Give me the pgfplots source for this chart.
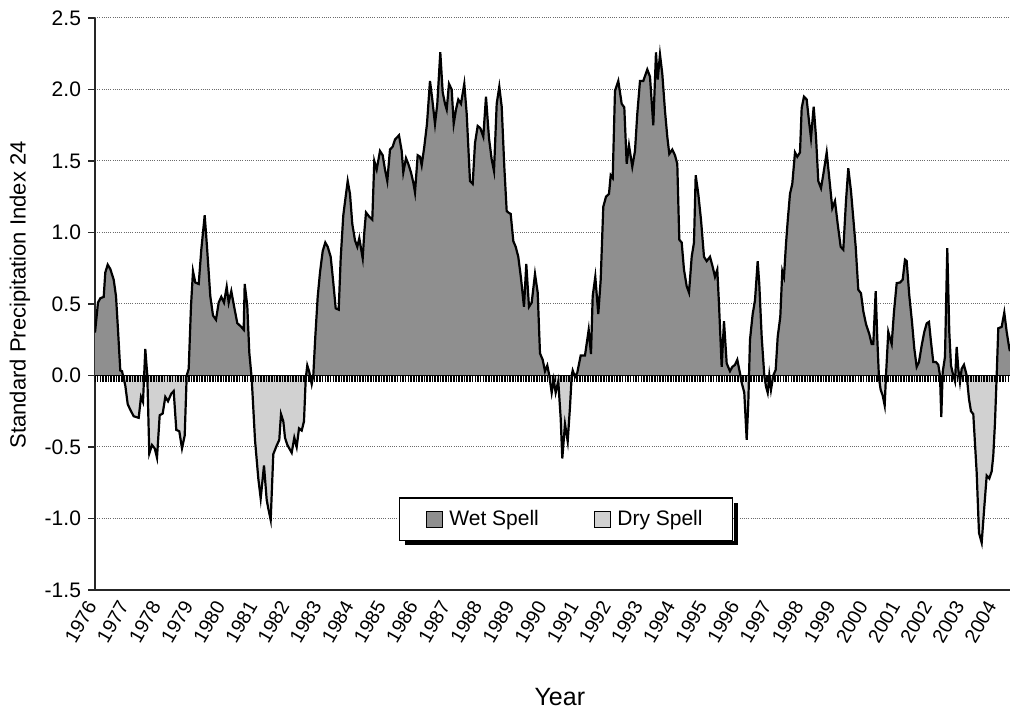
\documentclass[border=0pt]{standalone}
\usepackage{fontspec}
\setmainfont{Liberation Sans}
\usepackage{pgfplots}
\usepackage{pgfplotstable}
\pgfplotsset{compat=1.18}
\usetikzlibrary{calc}
\definecolor{wet}{gray}{0.56}
\definecolor{dry}{gray}{0.82}
\definecolor{gridc}{gray}{0.42}

% px = horizontal position (1976 at 95, 32.14 per year), v = SPI-24 value
\pgfplotstableread{
px v
95 0.30
98 0.51
100.3 0.54
103.7 0.55
105.3 0.72
107.7 0.775
110.3 0.745
113.7 0.67
116 0.555
118 0.32
120.3 0.035
122 0.03
123.7 -0.02
125.3 -0.07
127.7 -0.2
130.3 -0.24
133.7 -0.285
138.7 -0.296
141 -0.15
143 -0.185
145.3 0.185
147.3 0.0
149.3 -0.545
152 -0.486
154.7 -0.51
157 -0.575
159.7 -0.278
162.7 -0.266
165.3 -0.15
168 -0.18
171.3 -0.127
173.7 -0.109
176.3 -0.38
179.3 -0.39
182 -0.51
184.7 -0.42
186.7 0.0
188.7 0.046
191 0.486
193 0.73
195.3 0.65
198.7 0.64
201.3 0.88
204.7 1.12
207 0.90
210.3 0.555
213 0.42
216 0.39
218.7 0.51
221.3 0.55
224 0.51
226.7 0.62
228.7 0.51
231.3 0.59
234 0.486
237.3 0.366
241.3 0.34
243.7 0.32
244.7 0.64
247.3 0.486
249.3 0.16
251.7 -0.02
255 -0.45
258.3 -0.72
260.7 -0.86
264 -0.63
266.7 -0.87
268.3 -0.93
270.7 -1.01
273.3 -0.55
276.7 -0.49
279.3 -0.45
281 -0.27
283.3 -0.32
285 -0.435
287.3 -0.485
291.7 -0.54
294.3 -0.435
296.7 -0.5
299 -0.37
301.7 -0.385
304 -0.32
305.7 -0.025
307.3 0.07
309.3 0.025
311.7 -0.06
313.3 0.0
315.3 0.27
317.7 0.55
320 0.72
322.7 0.87
325.3 0.93
327.7 0.90
330.7 0.83
333.3 0.65
335.7 0.47
338.7 0.46
340.7 0.82
343.3 1.12
345.3 1.23
347.7 1.36
350 1.27
352.3 1.06
355 0.945
357.3 0.90
359.3 0.96
362.7 0.82
364.3 1.0
366 1.14
369.3 1.11
372.3 1.09
374.3 1.5
376.7 1.44
380 1.57
382.7 1.54
385 1.44
387.3 1.36
390 1.58
392.7 1.6
395 1.65
399 1.68
401.7 1.57
403.3 1.42
406 1.52
408.3 1.48
411 1.42
413.3 1.35
415 1.28
417.7 1.54
420 1.53
421.7 1.47
424.3 1.6
427 1.76
430 2.06
432.3 1.93
435 1.76
437.3 1.90
440.3 2.26
442.7 1.98
445 1.90
446.7 1.86
449 2.04
451.7 2.0
453.7 1.76
456 1.86
458.3 1.93
461 1.90
464.3 2.04
466.7 1.83
470 1.36
472.7 1.34
475 1.625
477.7 1.745
480.3 1.73
483.3 1.67
486 1.95
489 1.66
491.7 1.51
494 1.43
496.7 1.90
499.3 2.02
501.7 1.88
504.3 1.46
506.7 1.15
508.3 1.14
510.7 1.13
513.3 0.94
515.7 0.90
518.3 0.83
521 0.68
524 0.48
526.3 0.78
529 0.48
531.7 0.51
535 0.71
537.7 0.58
540 0.155
542.7 0.11
545 0.03
547.3 0.07
549.3 0.0
551.7 -0.12
553.7 -0.03
555.7 -0.12
558.3 -0.04
560.7 -0.3
562.3 -0.58
565 -0.34
567.7 -0.46
570 -0.22
571.7 0.0
572.7 0.035
575 -0.01
577.3 0.02
580.7 0.14
585 0.14
588.7 0.32
591 0.15
592.7 0.555
595.3 0.69
598.3 0.43
600.7 0.67
603.3 1.18
606 1.25
609 1.27
610.7 1.40
612.7 1.38
615 1.99
618.3 2.06
621.7 1.90
624.3 1.875
626.7 1.48
629 1.61
632.3 1.46
635 1.57
637.3 1.83
640 2.06
643.3 2.06
647.3 2.14
650 2.09
653.3 1.75
656 2.26
657.7 2.07
660 2.245
662.3 2.11
665 1.85
667.3 1.67
669.3 1.55
672.3 1.58
675 1.54
677.3 1.48
679.3 0.95
681.7 0.93
684 0.74
686.7 0.625
689 0.58
691.7 0.83
694 0.93
695.7 1.40
698.3 1.27
701 1.09
704 0.83
706.7 0.80
710 0.83
712.7 0.76
715 0.69
717.3 0.74
719 0.5
721.7 0.06
724 0.38
726.7 0.085
730 0.03
732.3 0.06
735 0.075
737.3 0.11
740 0.016
741.7 -0.05
744.3 -0.12
746.7 -0.45
748.3 -0.19
750 0.25
752.7 0.43
755 0.525
757.7 0.80
759.3 0.64
761.7 0.27
764.3 0.0
766 -0.076
767.7 -0.12
769.3 0.0
771 -0.1
773.3 0.0
775.7 0.04
777.7 0.27
780.3 0.41
782.3 0.73
784 0.69
786 0.92
787.7 1.08
790 1.27
792.3 1.34
795 1.56
797.3 1.53
800 1.56
801.7 1.87
804 1.95
806.7 1.93
809 1.78
811 1.66
813.7 1.88
816 1.67
818.3 1.36
821 1.31
823.3 1.405
826.7 1.56
829.3 1.38
832.3 1.17
835 1.22
837.7 1.06
840.7 0.90
843.3 0.88
846 1.22
848.3 1.45
851 1.29
853.3 1.10
855.7 0.90
858.3 0.60
861 0.575
863.3 0.45
866 0.36
869.3 0.29
871.7 0.22
873.3 0.22
875.7 0.59
877.3 0.26
879 -0.02
880.7 -0.10
882.7 -0.14
884.7 -0.21
886 0.0
888.3 0.305
890 0.26
891.7 0.22
894 0.446
896.7 0.646
900 0.65
902.7 0.67
905 0.81
906.7 0.80
909.3 0.56
912 0.375
914.3 0.19
916.7 0.06
919 0.094
921.7 0.21
924.3 0.305
926.7 0.364
929 0.375
931 0.235
933.3 0.094
936 0.094
938.3 0.075
940 0.0
941.3 -0.29
942.7 0.023
945 0.13
947.3 0.89
949.3 0.305
951 0.07
953.3 0.0
955 -0.04
956.7 0.2
958.3 0.047
960 -0.047
961.7 0.047
964 0.075
966.7 0.0
969 -0.164
971 -0.25
973.3 -0.27
976.7 -0.68
979 -1.10
981.7 -1.17
984 -0.95
986.7 -0.70
989.3 -0.72
991.7 -0.67
993.3 -0.56
995 -0.33
996.7 0.0
998.3 0.33
1001.7 0.34
1004.3 0.44
1006.7 0.305
1009.3 0.19
1010 0.17
}\spi

\begin{document}
\begin{tikzpicture}
\begin{axis}[
  scale only axis, width=457.5pt, height=286pt,
  xmin=1976, xmax=2004.47, ymin=-1.5, ymax=2.5,
  axis lines*=left,
  axis line style={line width=0.7pt, black!85},
  xtick={1976,1977,...,2004},
  xticklabels={1976,1977,1978,1979,1980,1981,1982,1983,1984,1985,1986,1987,1988,1989,1990,1991,1992,1993,1994,1995,1996,1997,1998,1999,2000,2001,2002,2003,2004},
  x tick style={draw=none},
  ytick={-1.5,-1,...,2.5},
  yticklabels={-1.5,-1.0,-0.5,0.0,0.5,1.0,1.5,2.0,2.5},
  tick align=outside, major tick length=3.5pt,
  y tick style={black!85, line width=0.6pt},
  ymajorgrids,
  grid style={gridc, line width=0.5pt, dash pattern=on 0.5pt off 0.6pt},
  tick label style={font=\fontsize{10.5}{12}\selectfont},
  xticklabel style={rotate=60, anchor=east, font=\fontsize{9.8}{12}\selectfont},
  every axis x label/.style={at={(axis description cs:0.508,-0.187)}, anchor=center, font=\fontsize{12.5}{14}\selectfont},
  every axis y label/.style={at={(axis description cs:-0.082,0.516)}, anchor=center, rotate=90, font=\fontsize{11}{13}\selectfont},
  xlabel={Year},
  ylabel={Standard Precipitation Index 24},
  legend columns=2,
  legend style={at={(axis description cs:0.515,0.124)}, anchor=center, name=leg,
    draw=black, line width=0.6pt, fill=white,
    font=\fontsize{10.5}{12}\selectfont,
    inner xsep=13pt, inner ysep=4pt,
    /tikz/every even column/.append style={column sep=25.5pt}},
  legend image code/.code={\draw[#1, draw=black, line width=0.5pt] (0pt,-4pt) rectangle (8pt,4pt); \path (9.5pt,0pt);},
]
\begin{scope}
\clip (axis cs:1976,0) rectangle (axis cs:2004.47,2.5);
\addplot[fill=wet, draw=none] table[x expr={1976+(\thisrow{px}-95)/32.14}, y=v] {\spi} -- (axis cs:2004.47,0) -- (axis cs:1976,0) -- cycle;
\end{scope}
\addlegendentry{Wet Spell}
\begin{scope}
\clip (axis cs:1976,-1.5) rectangle (axis cs:2004.47,0);
\addplot[fill=dry, draw=none] table[x expr={1976+(\thisrow{px}-95)/32.14}, y=v] {\spi} -- (axis cs:2004.47,0) -- (axis cs:1976,0) -- cycle;
\end{scope}
\addlegendentry{Dry Spell}
\pgfplotsinvokeforeach{0,...,341}{\draw[black, line width=0.8pt] (axis cs:{1976+#1/12},0) -- ++(0pt,-3.5pt);}
\draw[black, line width=0.6pt] (axis cs:1976,0) -- (axis cs:2004.47,0);
\addplot[black, line width=1.1pt, forget plot] table[x expr={1976+(\thisrow{px}-95)/32.14}, y=v] {\spi};
\end{axis}
\fill[black] ($(leg.south west)+(3pt,-2.3pt)$) rectangle ($(leg.south east)+(2.3pt,-0.3pt)$);
\fill[black] ($(leg.south east)+(0.3pt,-2.3pt)$) rectangle ($(leg.north east)+(2.3pt,-3pt)$);
\pgfresetboundingbox
\path (current axis.south west) ++(-47.5pt,-60pt) rectangle ++(505pt,355pt);
\end{tikzpicture}
\end{document}
